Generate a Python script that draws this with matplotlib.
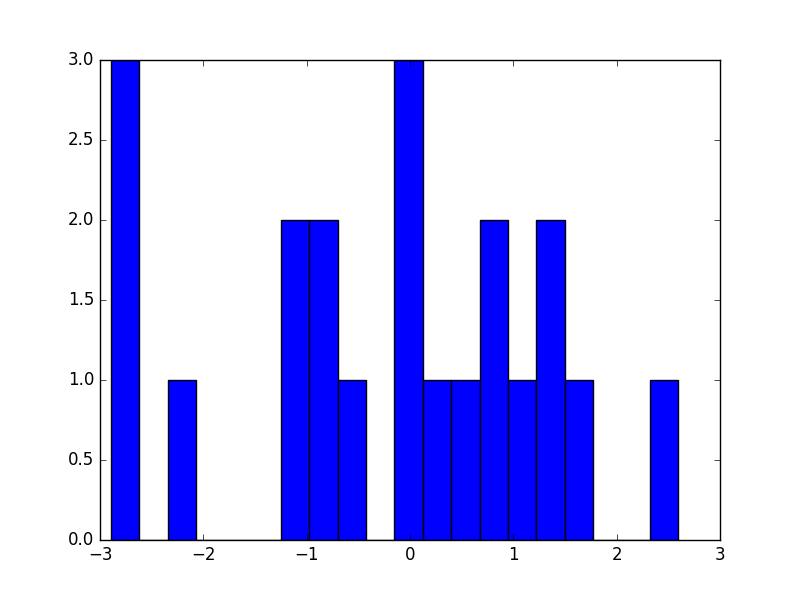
import numpy as np
import matplotlib
matplotlib.use('Agg')
import matplotlib.pyplot as plt

plt.style.use('classic')

# 20 bins
bin_start = -2.894
bin_end = 2.594
counts = [3, 0, 1, 0, 0, 0, 2, 2, 1, 0, 3, 1, 1, 2, 1, 2, 1, 0, 0, 1]

edges = np.linspace(bin_start, bin_end, len(counts) + 1)
widths = np.diff(edges)

fig, ax = plt.subplots(figsize=(8, 6), dpi=100)
ax.bar(edges[:-1], counts, width=widths, align='edge',
       color='#0000ff', edgecolor='black', linewidth=1)

ax.set_xlim(-3, 3)
ax.set_ylim(0, 3)

fig.savefig('out.png', dpi=100)
